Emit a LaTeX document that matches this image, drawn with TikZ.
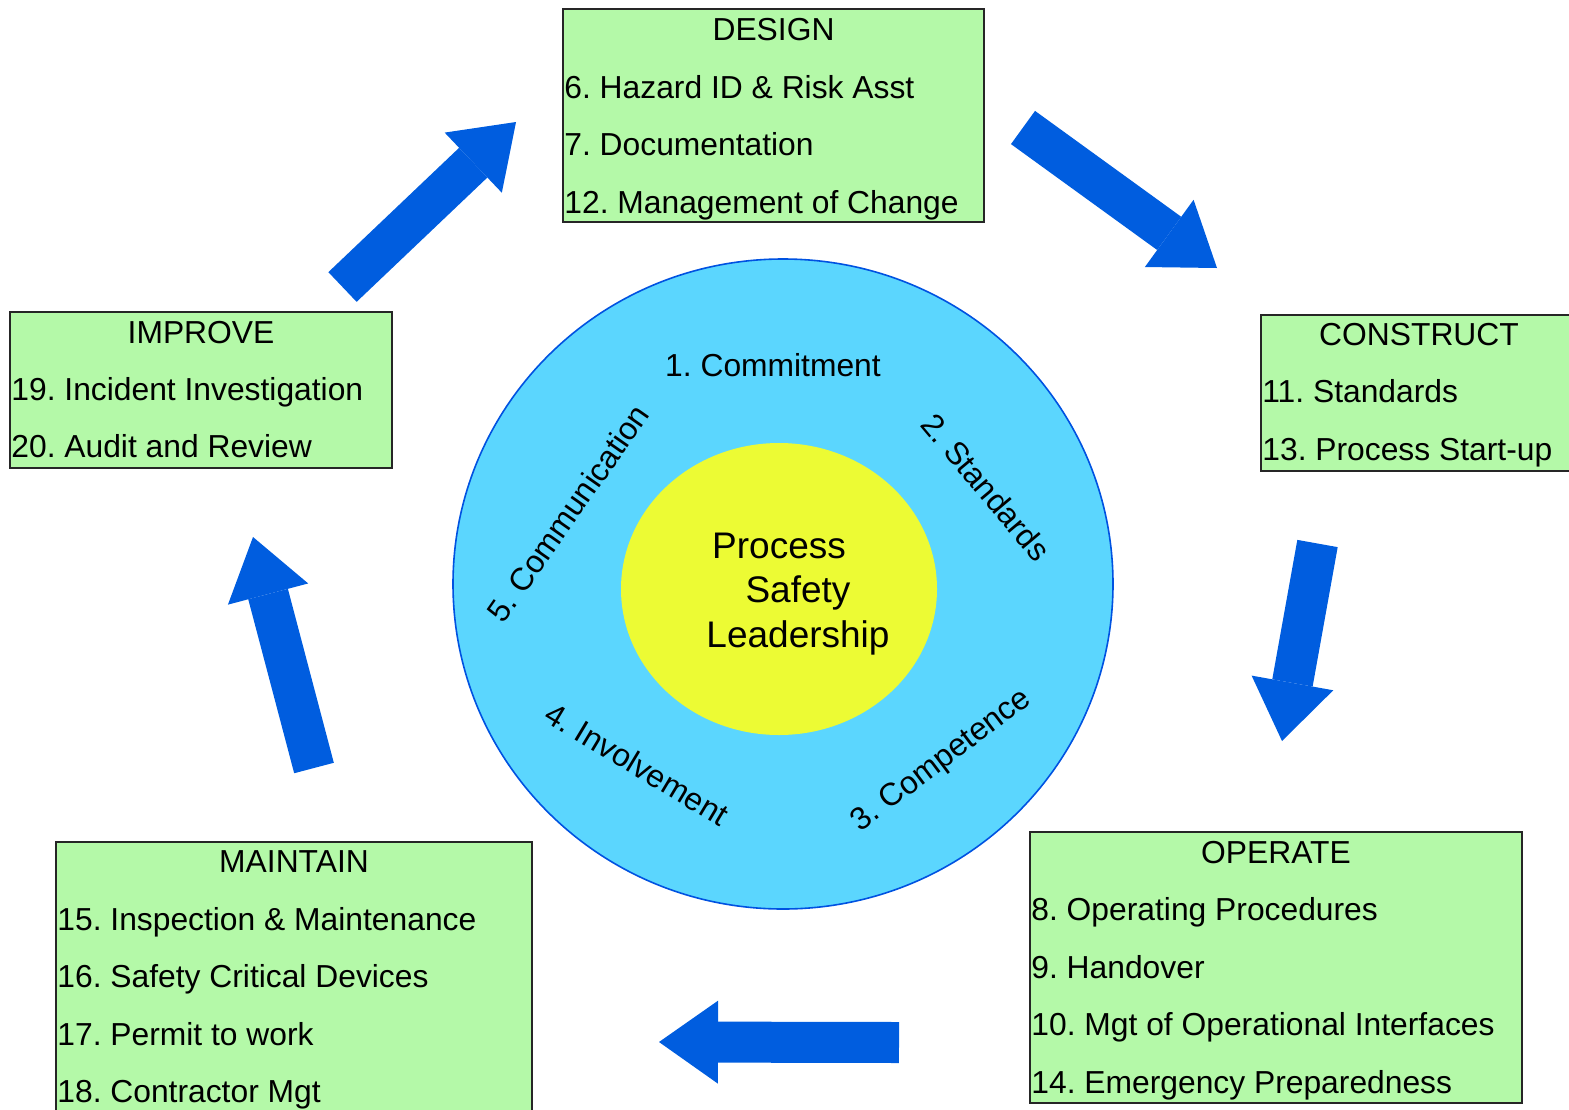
\documentclass[tikz,border=0pt]{standalone}
\usepackage{fontspec}
\setmainfont{Liberation Sans}
\frenchspacing
\usetikzlibrary{shapes.geometric, arrows.meta, positioning, calc, fit}

\definecolor{boxgreen}{RGB}{180,249,168}
\definecolor{ringfill}{RGB}{91,214,254}
\definecolor{ringline}{RGB}{0,82,225}
\definecolor{coreyellow}{RGB}{236,251,52}
\definecolor{flowblue}{RGB}{0,93,223}

\newcommand{\boxfont}{\fontsize{15.9}{19}\selectfont}

\tikzset{
  stagebox/.style={draw=black!85, line width=1pt, fill=boxgreen, inner sep=0pt},
  stagehead/.style={anchor=base, inner sep=0pt, font=\boxfont},
  stageitem/.style={anchor=base west, inner sep=0pt, font=\boxfont},
  ringlabel/.style={inner sep=0pt, font=\boxfont},
  flow/.style={draw=flowblue, line width=20.5pt,
    -{Triangle[length=29.5pt, width=41.5pt, line width=0pt]}}
}

\begin{document}
\begin{tikzpicture}[x=0.5pt, y=-0.5pt]
        \useasboundingbox (0,0) rectangle (1569,1109);
        \clip (0,0) rectangle (1569,1109);

        % Rings
        \node[ellipse, draw=ringline, line width=0.8pt, fill=ringfill,
              minimum width=330pt, minimum height=325pt] (ring) at (783,584) {};
        \node[ellipse, fill=coreyellow,
              minimum width=158pt, minimum height=146pt] (core) at (779,589) {};
        \node[align=center, inner sep=0pt, font=\fontsize{18.5}{22.25}\selectfont]
              (psl) at (798,594) {Process\hspace*{19pt}\\Safety\\Leadership};

        % Ring labels
        \node[ringlabel, anchor=base] (c1) at (773,376) {1. Commitment};
        \node[ringlabel, rotate=-50] (c2) at (986,487) {2. Standards};
        \node[ringlabel, rotate=37] (c3) at (942,761) {3. Competence};
        \node[ringlabel, rotate=-31] (c4) at (637,764) {4. Involvement};
        \node[ringlabel, rotate=55] (c5) at (568,513) {5. Communication};

        % Design
        \node[stagebox, fit={(563,9) (984,222)}] (design) {};
        \node[stagehead] (designT) at (773.5,40) {DESIGN};
        \node[stageitem] (d1) at (564,98) {6. Hazard ID \& Risk Asst};
        \node[stageitem] (d2) at (564,155.5) {7. Documentation};
        \node[stageitem] (d3) at (564,213) {12. Management of Change};

        % Construct
        \node[stagebox, fit={(1261,315) (1577,471)}] (construct) {};
        \node[stagehead] (constructT) at (1419,345) {CONSTRUCT};
        \node[stageitem] (k1) at (1262,402.5) {11. Standards};
        \node[stageitem] (k2) at (1262,460) {13. Process Start-up};

        % Operate
        \node[stagebox, fit={(1030,832) (1522,1103)}] (operate) {};
        \node[stagehead] (operateT) at (1276,863) {OPERATE};
        \node[stageitem] (o1) at (1031,920.5) {8. Operating Procedures};
        \node[stageitem] (o2) at (1031,978) {9. Handover};
        \node[stageitem] (o3) at (1031,1035.5) {10. Mgt of Operational Interfaces};
        \node[stageitem] (o4) at (1031,1093) {14. Emergency Preparedness};

        % Maintain
        \node[stagebox, fit={(56,842) (532,1125)}] (maintain) {};
        \node[stagehead] (maintainT) at (294,872) {MAINTAIN};
        \node[stageitem] (m1) at (57,930) {15. Inspection \& Maintenance};
        \node[stageitem] (m2) at (57,987.5) {16. Safety Critical Devices};
        \node[stageitem] (m3) at (57,1045) {17. Permit to work};
        \node[stageitem] (m4) at (57,1102.5) {18. Contractor Mgt};

        % Improve
        \node[stagebox, fit={(10,312) (392,468)}] (improve) {};
        \node[stagehead] (improveT) at (201,343) {IMPROVE};
        \node[stageitem] (i1) at (11,400) {19. Incident Investigation};
        \node[stageitem] (i2) at (11,457) {20. Audit and Review};

        % Cycle arrows
        \coordinate (a1s) at (342.5,287);  \coordinate (a1e) at (516,122);
        \coordinate (a2s) at (1023,127.5); \coordinate (a2e) at (1217,268);
        \coordinate (a3s) at (1317.5,543.5); \coordinate (a3e) at (1282,741);
        \coordinate (a4s) at (899,1042.5); \coordinate (a4e) at (659,1042);
        \coordinate (a5s) at (314,768);    \coordinate (a5e) at (253,537);
        \draw[flow] (a1s) -- (a1e);
        \draw[flow] (a2s) -- (a2e);
        \draw[flow] (a3s) -- (a3e);
        \draw[flow] (a4s) -- (a4e);
        \draw[flow] (a5s) -- (a5e);
\end{tikzpicture}
\end{document}
